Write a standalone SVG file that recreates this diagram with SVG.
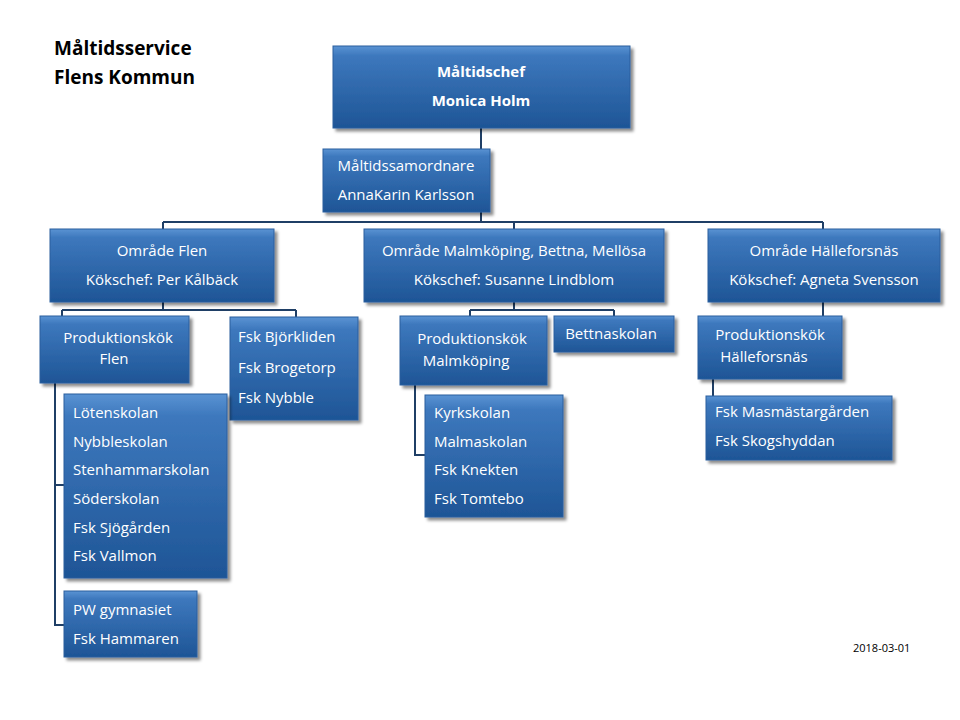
<svg xmlns="http://www.w3.org/2000/svg" width="960" height="720" viewBox="0 0 960 720">
<defs>
<linearGradient id="g" x1="0" y1="0" x2="0" y2="1">
<stop offset="0" stop-color="#5a93d3"/><stop offset="0.12" stop-color="#3d78bd"/><stop offset="1" stop-color="#1e5596"/>
</linearGradient>
<filter id="sh" x="-10%" y="-10%" width="125%" height="130%"><feDropShadow dx="3" dy="3" stdDeviation="1.5" flood-color="#000" flood-opacity="0.45"/></filter>
</defs>
<style>
.b{fill:url(#g);stroke:#2b5f9e;stroke-width:1;filter:url(#sh)}
text{font-family:"Open Sans","Liberation Sans",sans-serif;font-size:15px;fill:#fff}
.c{text-anchor:middle}
.t{fill:#000;font-weight:bold;font-size:19px}
.bd{font-weight:bold}
.l{fill:none;stroke:#1f3f66;stroke-width:2}
</style>
<rect width="960" height="720" fill="#fff"/>
<text class="t" x="54" y="55">Måltidsservice</text>
<text class="t" x="54" y="84">Flens Kommun</text>
<text x="853" y="652" style="fill:#000;font-size:11px">2018-03-01</text>
<g id="connectors">
<path class="l" d="M481 128V222M163 222H823M163 222V229M514 222V229M823 222V229M481 180H490"/>
<path class="l" d="M163 302V310M62 310H296M62 310V316M296 310V317M55 383V625H64M55 485H64"/>
<path class="l" d="M514 302V310M470 310H614M470 310V316M614 310V316M415 385V455H425"/>
<path class="l" d="M823 302V316M713 379V396"/>
</g>
<g id="chef"><rect class="b" x="333" y="46" width="297" height="82"/><text class="c bd" x="481" y="77">Måltidschef</text><text class="c bd" x="481" y="106">Monica Holm</text></g>
<g id="samordnare"><rect class="b" x="323" y="149" width="167" height="63"/><text class="c" x="406" y="171">Måltidssamordnare</text><text class="c" x="406" y="200">AnnaKarin Karlsson</text></g>
<g id="flen"><rect class="b" x="50" y="229" width="224" height="73"/><text class="c" x="162" y="256">Område Flen</text><text class="c" x="162" y="285">Kökschef:  Per Kålbäck</text></g>
<g id="malmkoping"><rect class="b" x="364" y="229" width="300" height="73"/><text class="c" x="514" y="256">Område Malmköping,  Bettna,  Mellösa</text><text class="c" x="514" y="285">Kökschef:  Susanne Lindblom</text></g>
<g id="halleforsnas"><rect class="b" x="708" y="229" width="232" height="73"/><text class="c" x="824" y="256">Område Hälleforsnäs</text><text class="c" x="824" y="285">Kökschef:  Agneta Svensson</text></g>
<g id="prodflen"><rect class="b" x="40" y="316" width="149" height="67"/><text class="c" x="118" y="343">Produktionskök</text><text class="c" x="114" y="364">Flen</text></g>
<g id="fskflen"><rect class="b" x="230" y="317" width="128" height="103"/><text x="238" y="342">Fsk Björkliden</text><text x="238" y="373">Fsk Brogetorp</text><text x="238" y="403">Fsk Nybble</text></g>
<g id="skolorflen"><rect class="b" x="64" y="394" width="163" height="184"/><text x="73" y="418">Lötenskolan</text><text x="73" y="447">Nybbleskolan</text><text x="73" y="475">Stenhammarskolan</text><text x="73" y="504">Söderskolan</text><text x="73" y="533">Fsk Sjögården</text><text x="73" y="561">Fsk Vallmon</text></g>
<g id="pw"><rect class="b" x="64" y="591" width="133" height="66"/><text x="73" y="615">PW gymnasiet</text><text x="73" y="644">Fsk Hammaren</text></g>
<g id="prodmalm"><rect class="b" x="400" y="316" width="147" height="69"/><text class="c" x="472" y="344">Produktionskök</text><text class="c" x="466" y="366">Malmköping</text></g>
<g id="bettna"><rect class="b" x="554" y="316" width="120" height="36"/><text class="c" x="611" y="339">Bettnaskolan</text></g>
<g id="skolormalm"><rect class="b" x="425" y="395" width="138" height="122"/><text x="434" y="418">Kyrkskolan</text><text x="434" y="447">Malmaskolan</text><text x="434" y="475">Fsk Knekten</text><text x="434" y="504">Fsk Tomtebo</text></g>
<g id="prodhalle"><rect class="b" x="698" y="316" width="144" height="63"/><text class="c" x="770" y="340">Produktionskök</text><text class="c" x="764" y="362">Hälleforsnäs</text></g>
<g id="fskhalle"><rect class="b" x="706" y="396" width="186" height="64"/><text x="715" y="417">Fsk Masmästargården</text><text x="715" y="446">Fsk Skogshyddan</text></g>
</svg>
